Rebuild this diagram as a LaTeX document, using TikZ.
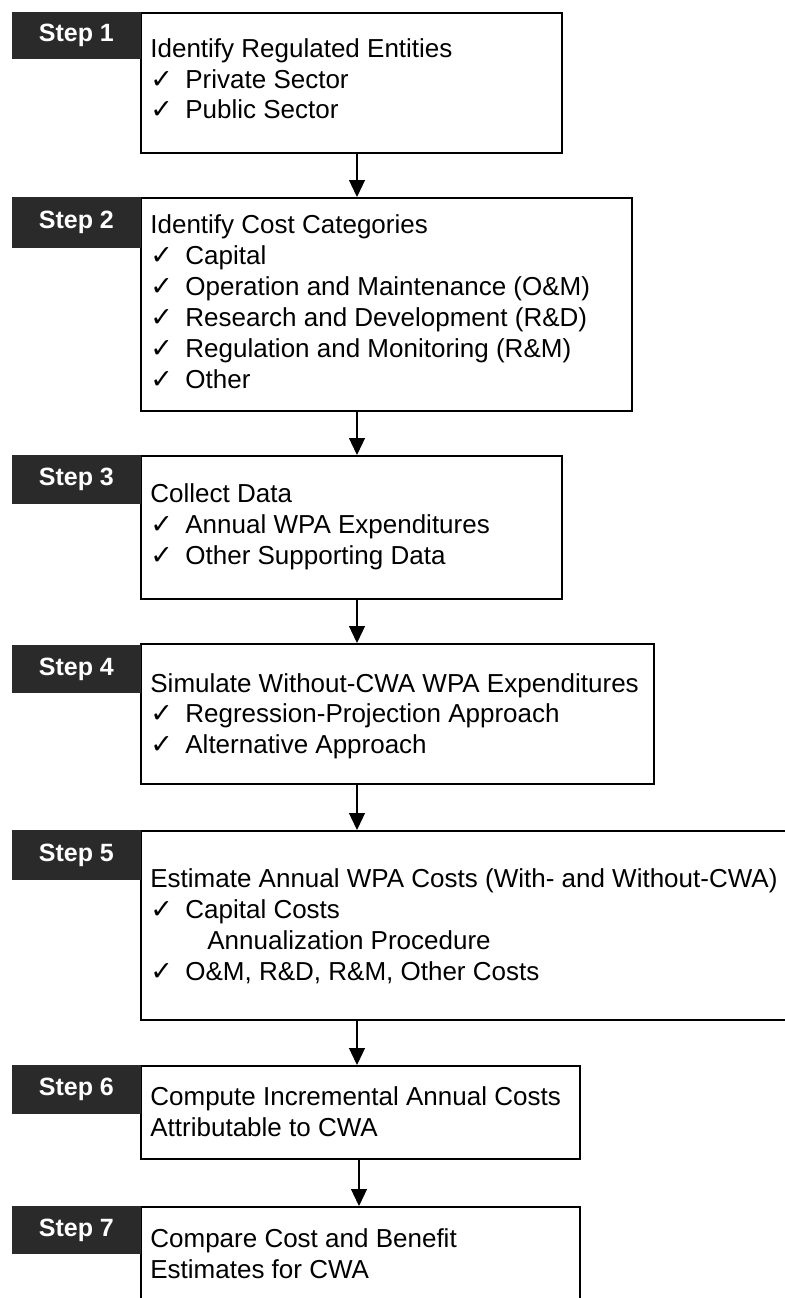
\documentclass[tikz,border=0pt]{standalone}
\usepackage{fontspec}
\setmainfont{Liberation Sans}
\newfontfamily\checkfont{DejaVu Sans}
\usetikzlibrary{arrows.meta}
\definecolor{tabgray}{HTML}{2A2A2A}
\newcommand\chkitem[1]{\makebox[17.5pt][l]{\checkfont\fontsize{13.5}{15}\selectfont ✓}#1}
\tikzset{
  stepbox/.style={draw=black, line width=0.9pt, fill=white, anchor=north west, inner sep=0pt},
  steptab/.style={fill=tabgray, draw=tabgray, anchor=north west, inner sep=0pt,
    minimum width=64pt, text=white, font=\bfseries\fontsize{12.5}{15}\selectfont},
  txt/.style={anchor=base west, inner sep=0pt, font=\fontsize{13}{15.5}\selectfont},
  flow/.style={line width=0.6pt, -{Triangle[width=8pt,length=8.5pt]}}
}
\begin{document}
\begin{tikzpicture}[x=0.5pt,y=-0.5pt]
\clip (0,0) rectangle (785,1298);
\fill[white] (0,0) rectangle (785,1298);

% boxes
\node[stepbox, minimum width=210.5pt, minimum height=70pt] (b1) at (140,12) {};
\node[stepbox, minimum width=245.5pt, minimum height=106.5pt] (b2) at (140,197) {};
\node[stepbox, minimum width=210.5pt, minimum height=71.5pt] (b3) at (140,455) {};
\node[stepbox, minimum width=256.5pt, minimum height=70pt] (b4) at (140,643) {};
\node[stepbox, minimum width=330pt, minimum height=94.5pt] (b5) at (140,830) {};
\node[stepbox, minimum width=219.5pt, minimum height=46.5pt] (b6) at (140,1065) {};
\node[stepbox, minimum width=219.5pt, minimum height=60pt] (b7) at (140,1206) {};

% tabs
\node[steptab, minimum height=23pt] (s1) at (12,12) {Step 1};
\node[steptab, minimum height=25pt] (s2) at (12,197) {Step 2};
\node[steptab, minimum height=24pt] (s3) at (12,455) {Step 3};
\node[steptab, minimum height=23.5pt] (s4) at (12,645) {Step 4};
\node[steptab, minimum height=24.5pt] (s5) at (12,830) {Step 5};
\node[steptab, minimum height=24pt] (s6) at (12,1065) {Step 6};
\node[steptab, minimum height=23.5pt] (s7) at (12,1206) {Step 7};

% texts
\node[txt] (t1a) at (150,57) {Identify Regulated Entities};
\node[txt] (t1b) at (150,88) {\chkitem{Private Sector}};
\node[txt] (t1c) at (150,118) {\chkitem{Public Sector}};

\node[txt] (t2a) at (150,233) {Identify Cost Categories};
\node[txt] (t2b) at (150,264) {\chkitem{Capital}};
\node[txt] (t2c) at (150,295) {\chkitem{Operation and Maintenance (O\&M)}};
\node[txt] (t2d) at (150,326) {\chkitem{Research and Development (R\&D)}};
\node[txt] (t2e) at (150,357) {\chkitem{Regulation and Monitoring (R\&M)}};
\node[txt] (t2f) at (150,388) {\chkitem{Other}};

\node[txt] (t3a) at (150,502) {Collect Data};
\node[txt] (t3b) at (150,533) {\chkitem{Annual WPA Expenditures}};
\node[txt] (t3c) at (150,564) {\chkitem{Other Supporting Data}};

\node[txt] (t4a) at (150,692) {Simulate Without-CWA WPA Expenditures};
\node[txt] (t4b) at (150,722) {\chkitem{Regression-Projection Approach}};
\node[txt] (t4c) at (150,753) {\chkitem{Alternative Approach}};

\node[txt] (t5a) at (150,887) {Estimate Annual WPA Costs (With- and Without-CWA)};
\node[txt] (t5b) at (150,918) {\chkitem{Capital Costs}};
\node[txt] (t5c) at (207,949) {Annualization Procedure};
\node[txt] (t5d) at (150,980) {\chkitem{O\&M, R\&D, R\&M, Other Costs}};

\node[txt] (t6a) at (150,1105) {Compute Incremental Annual Costs};
\node[txt] (t6b) at (150,1136) {Attributable to CWA};

\node[txt] (t7a) at (150,1247) {Compare Cost and Benefit};
\node[txt] (t7b) at (150,1278) {Estimates for CWA};

% connectors
\coordinate (ax) at (357,0);
\coordinate (ay) at (359,0);
\draw[flow] (b1.south -| ax) -- (b2.north -| ax);
\draw[flow] (b2.south -| ax) -- (b3.north -| ax);
\draw[flow] (b3.south -| ax) -- (b4.north -| ax);
\draw[flow] (b4.south -| ax) -- (b5.north -| ax);
\draw[flow] (b5.south -| ax) -- (b6.north -| ax);
\draw[flow] (b6.south -| ay) -- (b7.north -| ay);
\end{tikzpicture}
\end{document}
